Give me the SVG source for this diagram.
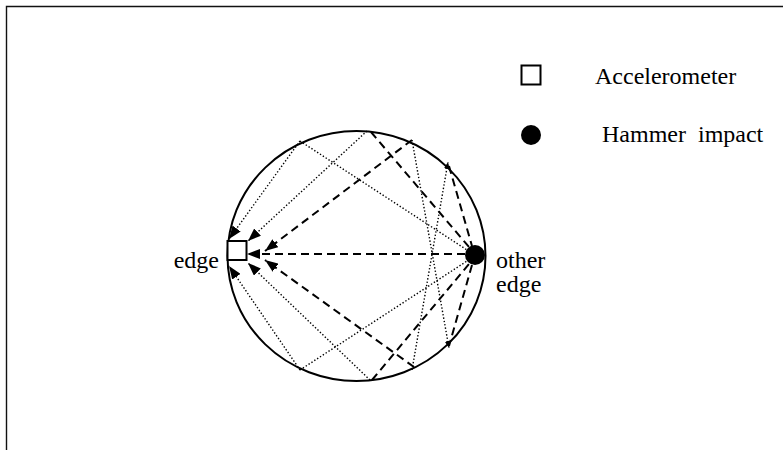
<svg xmlns="http://www.w3.org/2000/svg" width="783" height="450" viewBox="0 0 783 450">
<style>
.frame{fill:none;stroke:#111;stroke-width:1.4}
.ring{fill:none;stroke:#000;stroke-width:2}
.dash{fill:none;stroke:#000;stroke-width:2;stroke-dasharray:8 5}
.dot{fill:none;stroke:#000;stroke-width:1.4;stroke-dasharray:1.4 2}
.lbl{font-family:"Liberation Serif","Times New Roman",serif;font-size:24px;fill:#000}
</style>
<defs>
<marker id="ah" markerUnits="userSpaceOnUse" markerWidth="14" markerHeight="10" refX="13" refY="5" orient="auto">
<path d="M0,0 L13,5 L0,10 Z" fill="#000"/>
</marker>
<marker id="as" markerUnits="userSpaceOnUse" markerWidth="8" markerHeight="6" refX="7" refY="3" orient="auto">
<path d="M0,0 L7,3 L0,6 Z" fill="#000"/>
</marker>
</defs>
<path class="frame" d="M6.5,450 V6.5 H783"/>
<g id="plate"><ellipse class="ring" cx="356.5" cy="256" rx="129" ry="125"/></g>
<g id="connectors">
<line class="dot" x1="300" y1="141" x2="229" y2="239" marker-end="url(#ah)"/>
<line class="dot" x1="300" y1="141" x2="467" y2="250"/>
<line class="dot" x1="367" y1="131" x2="248" y2="241" marker-end="url(#ah)"/>
<line class="dash" x1="371" y1="132" x2="469" y2="247"/>
<line class="dash" x1="412" y1="140" x2="265" y2="251" marker-end="url(#ah)"/>
<line class="dot" x1="412" y1="140" x2="449" y2="348" marker-end="url(#as)"/>
<line class="dash" x1="449" y1="166" x2="472" y2="246"/>
<line class="dot" x1="412" y1="370" x2="448" y2="162" marker-end="url(#as)"/>
<line class="dash" x1="465" y1="254" x2="247" y2="254" marker-end="url(#ah)"/>
<line class="dot" x1="300" y1="370" x2="229" y2="266" marker-end="url(#ah)"/>
<line class="dot" x1="300" y1="370" x2="467" y2="261"/>
<line class="dot" x1="370" y1="380" x2="248" y2="263" marker-end="url(#ah)"/>
<line class="dash" x1="372" y1="380" x2="469" y2="264"/>
<line class="dash" x1="414" y1="367" x2="265" y2="260" marker-end="url(#ah)"/>
<line class="dash" x1="472" y1="265" x2="449" y2="346"/>
</g>
<g id="accelerometer"><rect x="227.5" y="241" width="19" height="19" fill="#fff" stroke="#000" stroke-width="2"/></g>
<g id="hammer"><circle cx="475" cy="255" r="10" fill="#000"/></g>
<g id="labels">
<text class="lbl" x="219" y="268" text-anchor="end">edge</text>
<text class="lbl" x="496" y="268">other</text>
<text class="lbl" x="496" y="292">edge</text>
</g>
<g id="legend">
<rect x="521.5" y="65.5" width="19" height="19" fill="none" stroke="#000" stroke-width="2"/>
<circle cx="531" cy="135" r="10" fill="#000"/>
<text class="lbl" x="595" y="84">Accelerometer</text>
<text class="lbl" x="602" y="142" xml:space="preserve">Hammer  impact</text>
</g>
</svg>
